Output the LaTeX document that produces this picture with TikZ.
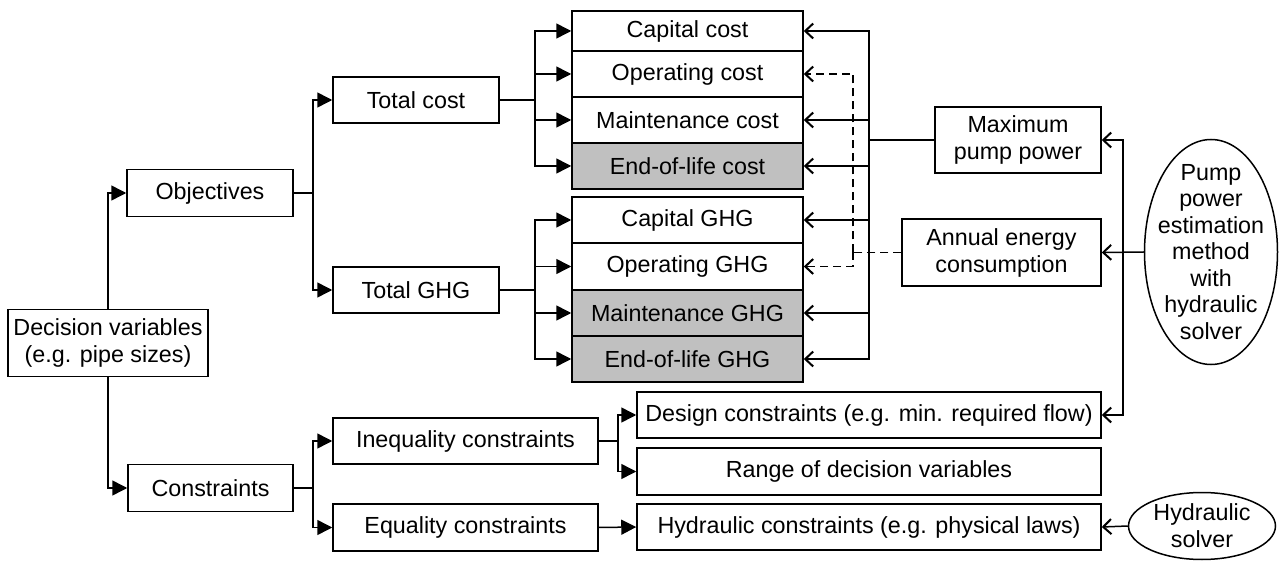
\documentclass[tikz,border=0pt]{standalone}
\usepackage{fontspec}
\setmainfont{Liberation Sans}
\usetikzlibrary{arrows.meta,shapes.geometric}
\definecolor{boxgray}{RGB}{192,192,192}
\begin{document}
\begin{tikzpicture}[x=1pt,y=-1pt,
  txt/.style={font=\fontsize{23.3}{27}\selectfont, align=center},
  box/.style={txt, draw, line width=1.5pt, inner sep=0pt},
  shaded/.style={fill=boxgray},
  oval/.style={draw, ellipse, line width=1.5pt, inner sep=0pt},
  conn/.style={line width=1.5pt},
  fwd/.style={conn, -{Triangle[length=15pt,width=15pt]}},
  back/.style={conn, -{Straight Barb[length=8pt,width=15pt,line width=2pt]}},
  dashline/.style={dash pattern=on 8pt off 5pt}
]
\useasboundingbox (0,0) rectangle (1280,561);

% left column
\node[box, minimum width=200pt, minimum height=67pt] (dv) at (108,343) {Decision variables\\(e.g. pipe sizes)};
\node[box, minimum width=166pt, minimum height=47pt] (obj) at (210,193) {Objectives};
\node[box, minimum width=165pt, minimum height=47pt] (con) at (210.5,488) {Constraints};

% totals
\node[box, minimum width=166pt, minimum height=46pt] (tc) at (416,100) {Total cost};
\node[box, minimum width=166pt, minimum height=46pt] (tg) at (416,290) {Total GHG};

% cost stack
\node[box, minimum width=231pt, minimum height=40pt] (cc) at (687.5,31) {Capital cost};
\node[box, minimum width=231pt, minimum height=46pt] (oc) at (687.5,74) {Operating cost};
\node[box, minimum width=231pt, minimum height=46pt] (mc) at (687.5,120) {Maintenance cost};
\node[box, shaded, minimum width=231pt, minimum height=46pt] (ec) at (687.5,166) {End-of-life cost};

% GHG stack
\node[box, minimum width=231pt, minimum height=46pt] (cg) at (687.5,220) {Capital GHG};
\node[box, minimum width=231pt, minimum height=47pt] (og) at (687.5,266.5) {Operating GHG};
\node[box, shaded, minimum width=231pt, minimum height=46pt] (mg) at (687.5,313) {Maintenance GHG};
\node[box, shaded, minimum width=231pt, minimum height=46pt] (eg) at (687.5,359) {End-of-life GHG};

% pump side
\node[box, minimum width=166pt, minimum height=66pt] (mpp) at (1018,140) {Maximum\\pump power};
\node[box, minimum width=199pt, minimum height=67pt] (aec) at (1001.5,252.5) {Annual energy\\consumption};
\node[oval, minimum width=133pt, minimum height=225pt] (pump) at (1211,252) {};
\node[txt, font=\fontsize{23.3}{26.5}\selectfont] (pumptxt) at (pump.center) {Pump\\power\\estimation\\method\\with\\hydraulic\\solver};

% constraints
\node[box, minimum width=265pt, minimum height=46pt] (ineq) at (465.5,441) {Inequality constraints};
\node[box, minimum width=265pt, minimum height=47pt] (eq) at (465.5,527.5) {Equality constraints};
\node[box, minimum width=464pt, minimum height=46pt] (dc) at (869,415) {Design constraints (e.g. min. required flow)};
\node[box, minimum width=464pt, minimum height=47pt] (rg) at (869,471.5) {Range of decision variables};
\node[box, minimum width=464pt, minimum height=46pt] (hc) at (869,527) {Hydraulic constraints (e.g. physical laws)};
\node[oval, minimum width=147pt, minimum height=67pt] (hs) at (1202,526) {};
\node[txt] (hstxt) at (hs.center) {Hydraulic\\solver};

% junction points
\coordinate (j1) at (313,193);
\coordinate (j2) at (535,100);
\coordinate (j3) at (535,290);
\coordinate (j4) at (313,488);
\coordinate (j5) at (618,441);
\coordinate (j6) at (869,140);
\coordinate (j7) at (853,252.5);
\coordinate (j8) at (1123,252);

% decision variables
\draw[fwd] (dv.north) |- (obj.west);
\draw[fwd] (dv.south) |- (con.west);

% objectives
\draw[conn] (obj.east) -- (j1);
\draw[fwd] (j1) |- (tc.west);
\draw[fwd] (j1) |- (tg.west);

\draw[conn] (tc.east) -- (j2);
\foreach \n in {cc,oc,mc,ec} \draw[fwd] (j2) |- (\n.west);
\draw[conn] (tg.east) -- (j3);
\foreach \n in {cg,og,mg,eg} \draw[fwd] (j3) |- (\n.west);

% constraints
\draw[conn] (con.east) -- (j4);
\draw[fwd] (j4) |- (ineq.west);
\draw[fwd] (j4) |- (eq.west);
\draw[conn] (ineq.east) -- (j5);
\draw[fwd] (j5) |- (dc.west);
\draw[fwd] (j5) |- (rg.west);
\draw[fwd] (eq.east) -- (hc.west);
\draw[back] (hs.west) -- (hc.east);

% maximum pump power
\draw[conn] (mpp.west) -- (j6);
\foreach \n in {cc,mc,ec,cg,mg,eg} \draw[back] (j6) |- (\n.east);

% annual energy
\draw[conn, dashline] (aec.west) -- (j7);
\draw[back, dashline] (j7) |- (oc.east);
\draw[back, dashline] (j7) |- (og.east);

% pump power estimation
\draw[back] (pump.west) -- (aec.east);
\draw[back] (j8) |- (mpp.east);
\draw[back] (j8) |- (dc.east);
\end{tikzpicture}
\end{document}
